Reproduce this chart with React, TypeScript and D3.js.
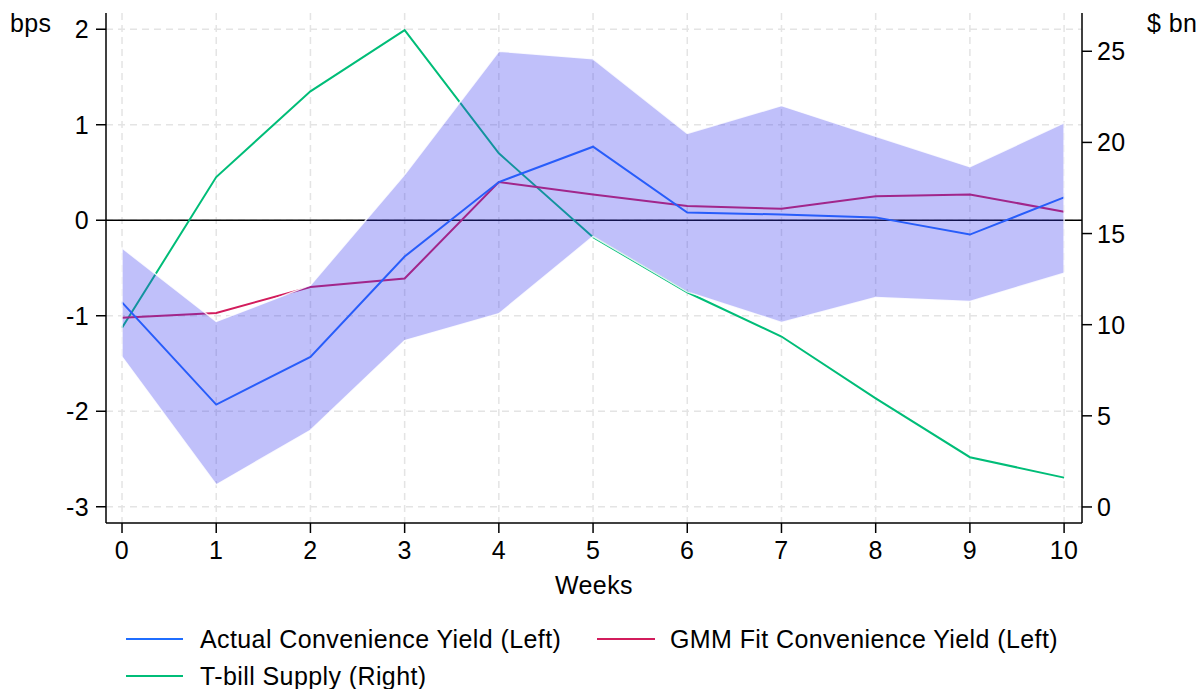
import React from "react";
import * as d3 from "d3";

// Weeks after the event
const weeks = [0, 1, 2, 3, 4, 5, 6, 7, 8, 9, 10];

// Convenience yields, bps (left axis)
const actualYield = [-0.86, -1.93, -1.43, -0.38, 0.4, 0.77, 0.08, 0.06, 0.03, -0.15, 0.24];
const gmmFitYield = [-1.02, -0.97, -0.7, -0.61, 0.4, 0.27, 0.15, 0.12, 0.25, 0.27, 0.09];

// Confidence band around the actual yield, bps
const bandUpper = [-0.29, -1.06, -0.68, 0.48, 1.77, 1.69, 0.91, 1.2, 0.88, 0.56, 1.02];
const bandLower = [-1.43, -2.77, -2.2, -1.26, -0.98, -0.17, -0.75, -1.07, -0.81, -0.85, -0.555];

// T-bill supply, $ bn (right axis)
const tbillSupply = [9.83, 18.1, 22.8, 26.16, 19.4, 14.8, 11.78, 9.35, 5.96, 2.73, 1.61];

// Tick values
const leftTicks = [-3, -2, -1, 0, 1, 2];
const rightTicks = [0, 5, 10, 15, 20, 25];

const W = 1200;
const H = 689;
const FONT = "'Liberation Sans', Arial, Helvetica, sans-serif";
const FS = 25;
const LS = 0.4;

const BLUE = "#1f6dff";
const CRIMSON = "#d21c5c";
const GREEN = "#00bd78";

export default function App() {
  const left = 106;
  const right = 1082;
  const top = 13;
  const bottom = 523;

  const x = d3.scaleLinear().domain([-0.17, 10.19]).range([left, right]);
  const yL = d3.scaleLinear().domain([-3.17, 2.17]).range([bottom, top]);
  const yR = d3.scaleLinear().domain([-0.88, 27.1]).range([bottom, top]);

  const lineL = d3
    .line<number>()
    .x((_, i) => x(weeks[i]))
    .y((d) => yL(d));
  const lineR = d3
    .line<number>()
    .x((_, i) => x(weeks[i]))
    .y((d) => yR(d));
  const area = d3
    .area<number>()
    .x((_, i) => x(weeks[i]))
    .y0((_, i) => yL(bandLower[i]))
    .y1((d) => yL(d));

  const gridStyle = {
    stroke: "#e4e4e4",
    strokeWidth: 1.5,
    strokeDasharray: "7 5",
  };

  const txt = { fontSize: FS, letterSpacing: LS };

  return (
    <svg
      width={W}
      height={H}
      style={{ position: "absolute", left: 0, top: 0, background: "#fff" }}
      fontFamily={FONT}
    >
      <rect width={W} height={H} fill="#fff" />

      {/* grid */}
      {weeks.map((w) => (
        <line key={"gx" + w} x1={x(w)} x2={x(w)} y1={top} y2={bottom} {...gridStyle} />
      ))}
      {leftTicks.map((t) => (
        <line key={"gy" + t} x1={left} x2={right} y1={yL(t)} y2={yL(t)} {...gridStyle} />
      ))}

      {/* zero line */}
      <line x1={left} x2={right} y1={yL(0)} y2={yL(0)} stroke="#000" strokeWidth={1.5} />

      {/* series */}
      <path d={lineR(tbillSupply) || ""} fill="none" stroke={GREEN} strokeWidth={2} />
      <path d={lineL(gmmFitYield) || ""} fill="none" stroke={CRIMSON} strokeWidth={2} />
      <path d={lineL(actualYield) || ""} fill="none" stroke={BLUE} strokeWidth={2} />

      {/* confidence band, translucent over the lines */}
      <path
        d={area(bandUpper) || ""}
        fill="rgb(58,58,239)"
        fillOpacity={0.32}
        stroke="#fff"
        strokeOpacity={0.85}
        strokeWidth={1.5}
      />

      {/* axes */}
      <line x1={left} x2={left} y1={top} y2={bottom} stroke="#000" strokeWidth={1.5} />
      <line x1={right} x2={right} y1={top} y2={bottom} stroke="#000" strokeWidth={1.5} />
      <line x1={left} x2={right} y1={bottom} y2={bottom} stroke="#000" strokeWidth={1.5} />

      {leftTicks.map((t) => (
        <g key={"lt" + t}>
          <line x1={left - 10} x2={left} y1={yL(t)} y2={yL(t)} stroke="#000" strokeWidth={1.5} />
          <text x={left - 17} y={yL(t)} dy="0.36em" textAnchor="end" {...txt}>
            {t}
          </text>
        </g>
      ))}
      {rightTicks.map((t) => (
        <g key={"rt" + t}>
          <line x1={right} x2={right + 10} y1={yR(t)} y2={yR(t)} stroke="#000" strokeWidth={1.5} />
          <text x={right + 15} y={yR(t)} dy="0.36em" textAnchor="start" {...txt}>
            {t}
          </text>
        </g>
      ))}
      {weeks.map((w) => (
        <g key={"xt" + w}>
          <line x1={x(w)} x2={x(w)} y1={bottom} y2={bottom + 10} stroke="#000" strokeWidth={1.5} />
          <text x={x(w)} y={559} textAnchor="middle" {...txt}>
            {w}
          </text>
        </g>
      ))}

      {/* axis titles */}
      <text x={594} y={594} textAnchor="middle" {...txt}>
        Weeks
      </text>
      <text x={10} y={32} {...txt}>
        bps
      </text>
      <text x={1147} y={32} {...txt}>
        $ bn
      </text>

      {/* legend */}
      <line x1={126} x2={183} y1={639} y2={639} stroke={BLUE} strokeWidth={2} />
      <text x={200} y={639} dy="0.36em" {...txt}>
        Actual Convenience Yield (Left)
      </text>
      <line x1={597} x2={655} y1={639} y2={639} stroke={CRIMSON} strokeWidth={2} />
      <text x={670} y={639} dy="0.36em" {...txt}>
        GMM Fit Convenience Yield (Left)
      </text>
      <line x1={126} x2={183} y1={676} y2={676} stroke={GREEN} strokeWidth={2} />
      <text x={200} y={676} dy="0.36em" {...txt}>
        T-bill Supply (Right)
      </text>
    </svg>
  );
}
